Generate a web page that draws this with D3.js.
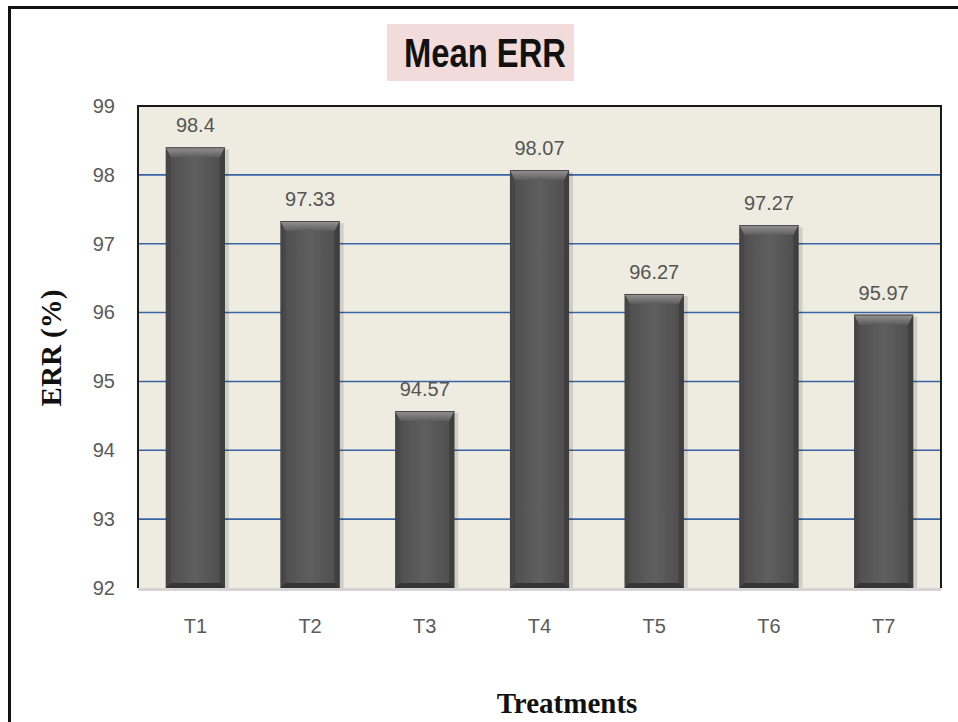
<!DOCTYPE html>
<html>
<head>
<meta charset="utf-8">
<script src="https://cdn.jsdelivr.net/npm/d3@7"></script>
<style>
  html, body { margin: 0; padding: 0; background: #ffffff; }
  svg { display: block; }
</style>
</head>
<body>
<svg id="chart" width="958" height="722"></svg>
<script>
const categories = ["T1", "T2", "T3", "T4", "T5", "T6", "T7"];
const values = [98.4, 97.33, 94.57, 98.07, 96.27, 97.27, 95.97];
const valueLabels = ["98.4", "97.33", "94.57", "98.07", "96.27", "97.27", "95.97"];
const yTicks = [92, 93, 94, 95, 96, 97, 98, 99];
const chartTitle = "Mean ERR";
const yTitle = "ERR (%)";
const xTitle = "Treatments";

const svg = d3.select("#chart");
const plot = { left: 138, right: 941, top: 106, bottom: 588 };

// outer border (extends beyond right/bottom edges)
svg.append("rect").attr("x", 9.5).attr("y", 7.5).attr("width", 1000).attr("height", 800)
  .attr("fill", "#fff").attr("stroke", "#111").attr("stroke-width", 3);

const defs = svg.append("defs");
const gH = defs.append("linearGradient").attr("id", "barH").attr("x1", "0").attr("x2", "1").attr("y1", "0").attr("y2", "0");
[["0%", "#3a3a3a"], ["10%", "#505050"], ["50%", "#5f5f5f"], ["90%", "#505050"], ["100%", "#3a3a3a"]]
  .forEach(([o, c]) => gH.append("stop").attr("offset", o).attr("stop-color", c));
const gTop = defs.append("linearGradient").attr("id", "barTop").attr("x1", "0").attr("x2", "0").attr("y1", "0").attr("y2", "1");
[["0%", "#959595"], ["100%", "#5c5c5c"]].forEach(([o, c]) => gTop.append("stop").attr("offset", o).attr("stop-color", c));

// title
svg.append("rect").attr("x", 387).attr("y", 24).attr("width", 187).attr("height", 57).attr("fill", "#f2dcdb");
svg.append("text").attr("x", 404).attr("y", 67)
  .attr("font-family", "'Liberation Sans Narrow','Arial Narrow','Liberation Sans',Arial,sans-serif")
  .attr("font-weight", "bold").attr("font-size", 41).attr("fill", "#111")
  .attr("textLength", 162).attr("lengthAdjust", "spacingAndGlyphs")
  .text(chartTitle);

const x = d3.scaleBand().domain(categories).range([plot.left, plot.right]).paddingInner(0.485).paddingOuter(0.2425);
const y = d3.scaleLinear().domain([92, 99]).range([plot.bottom, plot.top]);

// plot background
svg.append("rect").attr("x", plot.left).attr("y", plot.top)
  .attr("width", plot.right - plot.left).attr("height", plot.bottom - plot.top).attr("fill", "#eeece1");

// gridlines
svg.append("g").selectAll("line").data(yTicks.filter(t => t > 92 && t < 99)).join("line")
  .attr("x1", plot.left).attr("x2", plot.right)
  .attr("y1", d => y(d)).attr("y2", d => y(d))
  .attr("stroke", "#3863a5").attr("stroke-width", 1.6);

// bars
const bars = svg.append("g").selectAll("g").data(categories).join("g");
bars.each(function(c, i) {
  const g = d3.select(this);
  const x0 = x(c), x1 = x(c) + x.bandwidth();
  const y0 = y(values[i]), y1 = y(92);
  const b = 10, s = 5;
  g.append("rect").attr("x", x0 + 2).attr("y", y0 + 2).attr("width", x1 - x0 + 2).attr("height", y1 - y0 - 2)
    .attr("fill", "#000").attr("opacity", 0.12);
  g.append("rect").attr("x", x0).attr("y", y0).attr("width", x1 - x0).attr("height", y1 - y0)
    .attr("fill", "url(#barH)");
  g.append("polygon").attr("points", [[x0, y0], [x0 + s, y0 + b], [x0 + s, y1 - s], [x0, y1]].join(" "))
    .attr("fill", "#474747").attr("opacity", 0.8);
  g.append("polygon").attr("points", [[x1, y0], [x1 - s, y0 + b], [x1 - s, y1 - s], [x1, y1]].join(" "))
    .attr("fill", "#3e3e3e").attr("opacity", 0.85);
  g.append("polygon").attr("points", [[x0, y1], [x0 + s, y1 - s], [x1 - s, y1 - s], [x1, y1]].join(" "))
    .attr("fill", "#353535");
  g.append("polygon").attr("points", [[x0, y0], [x1, y0], [x1 - s, y0 + b], [x0 + s, y0 + b]].join(" "))
    .attr("fill", "url(#barTop)");
  g.append("line").attr("x1", x0).attr("x2", x1).attr("y1", y0 + 0.5).attr("y2", y0 + 0.5)
    .attr("stroke", "#4a4a4a").attr("stroke-width", 1);
});

// value labels
svg.append("g").selectAll("text").data(categories).join("text")
  .attr("x", c => x(c) + x.bandwidth() / 2)
  .attr("y", (c, i) => y(values[i]) - 15)
  .attr("text-anchor", "middle")
  .attr("font-family", "'Liberation Sans',Arial,sans-serif").attr("font-size", 20).attr("fill", "#555")
  .text((c, i) => valueLabels[i]);

// plot border
svg.append("line").attr("x1", plot.left).attr("x2", plot.right).attr("y1", plot.bottom + 1.5).attr("y2", plot.bottom + 1.5)
  .attr("stroke", "#d4d4d4").attr("stroke-width", 3);
svg.append("path")
  .attr("d", `M${plot.left},${plot.bottom} L${plot.left},${plot.top} L${plot.right},${plot.top} L${plot.right},${plot.bottom}`)
  .attr("fill", "none").attr("stroke", "#1a1a1a").attr("stroke-width", 2);

// y axis
const yAxis = d3.axisLeft(y).tickValues(yTicks).tickSize(0).tickPadding(23).tickFormat(d3.format("d"));
const ya = svg.append("g").attr("transform", `translate(${plot.left},0)`).call(yAxis);
ya.select(".domain").remove();
ya.selectAll("text").attr("font-family", "'Liberation Sans',Arial,sans-serif").attr("font-size", 20).attr("fill", "#5a5a5a");

// x axis
const xAxis = d3.axisBottom(x).tickSize(0).tickPadding(31);
const xa = svg.append("g").attr("transform", `translate(0,${plot.bottom})`).call(xAxis);
xa.select(".domain").remove();
xa.selectAll("text").attr("font-family", "'Liberation Sans',Arial,sans-serif").attr("font-size", 20).attr("fill", "#5a5a5a");

// axis titles
svg.append("text").attr("transform", "translate(61,348) rotate(-90)").attr("text-anchor", "middle")
  .attr("font-family", "'Liberation Serif','Times New Roman',serif").attr("font-weight", "bold")
  .attr("font-size", 29).attr("fill", "#111").text(yTitle);
svg.append("text").attr("x", 567).attr("y", 713).attr("text-anchor", "middle")
  .attr("font-family", "'Liberation Serif','Times New Roman',serif").attr("font-weight", "bold")
  .attr("font-size", 29).attr("fill", "#111").text(xTitle);
</script>
</body>
</html>
